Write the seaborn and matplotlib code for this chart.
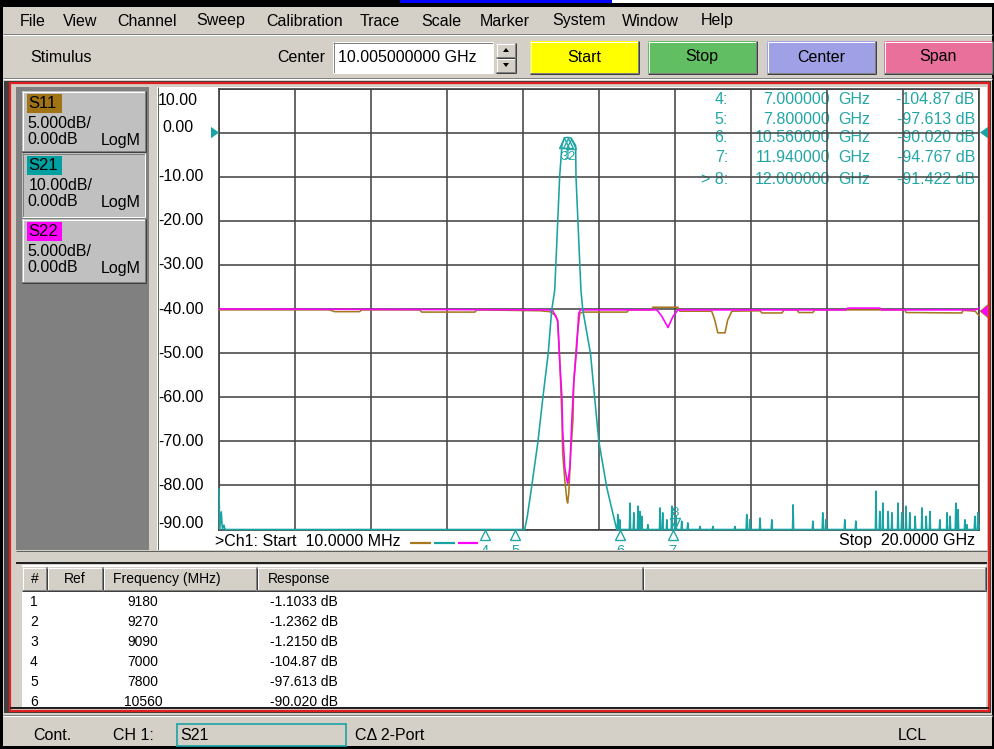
import numpy as np
import pandas as pd
import matplotlib
matplotlib.use("Agg")
import matplotlib.pyplot as plt
from matplotlib.patches import Rectangle, Polygon
from matplotlib import transforms
import seaborn as sns

# ---------------- data ----------------
start_ghz, stop_ghz = 0.01, 20.0
y_top_db, y_bottom_db = 10.0, -90.0
y_tick_db = [10, 0, -10, -20, -30, -40, -50, -60, -70, -80, -90]

trace_names = ["S11", "S21", "S22"]
trace_colors = {"S11": "#A8781E", "S21": "#1AA3A3", "S22": "#FF00FF"}
trace_scale = ["5.000dB/", "10.00dB/", "5.000dB/"]
trace_ref = ["0.00dB", "0.00dB", "0.00dB"]

# S21 main response (GHz, dB as displayed)
s21_freq = [0.01, 0.03, 0.07, 0.10, 0.14, 0.17, 8.05, 8.12, 8.23, 8.40, 8.53, 8.67,
            8.76, 8.84, 8.87, 8.92, 8.97, 9.03, 9.09, 9.18, 9.27, 9.39, 9.40, 9.45,
            9.50, 9.53, 9.58, 9.78, 9.89, 10.00, 10.21, 10.47]
s21_db = [-80.7, -90.0, -86.0, -90.0, -89.0, -90.0, -90.0, -87.0, -80.5, -70.0, -60.0, -50.0,
          -40.3, -35.8, -30.0, -20.0, -10.0, -2.9, -1.2, -1.1, -1.24, -2.9, -10.0, -20.0,
          -30.0, -35.8, -40.3, -50.0, -60.0, -70.0, -80.5, -90.0]
# S21 stop-band noise spikes above the -90 dB floor
spike_freq = [10.50, 10.55, 10.82, 10.92, 11.03, 11.08, 11.13, 11.29, 11.61, 11.68, 11.79,
              11.92, 12.03, 12.18, 12.34, 12.66, 13.00, 13.58, 13.89, 13.97, 14.24, 14.55,
              15.11, 15.63, 15.89, 15.97, 16.47, 16.76, 17.29, 17.39, 17.47, 17.61, 17.71,
              17.87, 17.97, 18.08, 18.18, 18.32, 18.50, 18.61, 18.71, 18.97, 19.16, 19.24,
              19.39, 19.45, 19.63, 19.68, 19.89, 19.97]
spike_db = [-86.6, -87.8, -84.0, -86.2, -84.7, -85.9, -87.0, -88.9, -85.1, -86.2, -87.8,
            -84.7, -87.0, -88.1, -88.5, -89.3, -89.3, -89.3, -86.6, -87.8, -87.4, -87.8,
            -84.4, -88.1, -86.2, -87.8, -87.8, -88.1, -81.3, -85.9, -84.0, -85.9, -86.2,
            -84.0, -86.2, -84.7, -86.2, -87.0, -85.1, -87.0, -85.9, -87.8, -86.2, -87.0,
            -84.0, -85.5, -87.8, -88.9, -87.0, -86.2]
noise_floor_db = -90.0
s21_tail_freq = [20.0]
s21_tail_db = [-89.0]

# S11 and S22 (displayed on the same graticule)
s11_freq = [0.01, 2.92, 3.05, 3.71, 3.76, 5.29, 5.34, 6.74, 6.79, 8.45, 8.71, 8.87, 8.92,
            8.97, 9.03, 9.05, 9.105, 9.16, 9.18, 9.21, 9.26, 9.32, 9.34, 9.42, 9.50, 9.58,
            10.74, 10.79, 11.39, 11.42, 12.08, 12.13, 12.97, 13.05, 13.13, 13.32, 13.39,
            13.50, 14.24, 14.29, 14.82, 14.87, 15.21, 15.26, 15.63, 15.68, 18.05, 18.08,
            19.55, 19.58, 19.90, 20.0]
s11_db = [-40.2, -40.2, -40.6, -40.6, -40.2, -40.2, -40.7, -40.7, -40.2, -40.4, -40.6, -41.5, -43.0,
          -51.0, -64.6, -72.7, -78.8, -83.3, -84.0, -81.8, -72.7, -65.2, -56.8, -47.1, -41.0, -40.7,
          -40.7, -40.2, -40.2, -39.6, -39.6, -40.5, -40.5, -42.5, -45.4, -45.4, -42.5,
          -40.5, -40.4, -40.9, -40.9, -40.2, -40.2, -40.8, -40.8, -40.2, -40.2, -40.8,
          -40.9, -40.3, -40.5, -41.5]
s22_freq = [0.01, 8.71, 8.79, 8.92, 8.97, 9.03, 9.05, 9.105, 9.16, 9.18, 9.24, 9.29, 9.34,
            9.42, 9.47, 9.52, 11.53, 11.66, 11.82, 11.95, 12.08, 16.50, 16.55, 17.39,
            17.44, 19.90, 20.0]
s22_db = [-40.0, -40.2, -40.4, -42.6, -51.6, -60.0, -67.5, -75.9, -78.8, -79.5, -75.9, -65.2, -56.8,
          -48.7, -41.0, -40.2, -40.2, -41.7, -44.2, -41.7, -40.2, -40.2, -39.8, -39.8,
          -40.2, -40.2, -39.8]

# markers on S21
marker_ids = ["1", "2", "3", "4", "5", "6", "7", "8"]
marker_freq_ghz = [9.18, 9.27, 9.09, 7.0, 7.8, 10.56, 11.94, 12.0]
marker_db = [-1.1033, -1.2362, -1.2150, -104.87, -97.613, -90.020, -94.767, -91.422]
marker_db_text = ["-1.1033", "-1.2362", "-1.2150", "-104.87", "-97.613", "-90.020", "-94.767", "-91.422"]
active_marker = "8"
readout_ids = ["4", "5", "6", "7", "8"]
table_ids = ["1", "2", "3", "4", "5", "6"]

menu_items = ["File", "View", "Channel", "Sweep", "Calibration", "Trace", "Scale",
              "Marker", "System", "Window", "Help"]
menu_x = [20, 63, 117, 196, 266, 360, 421, 480, 552, 622, 701]
table_headers = ["#", "Ref", "Frequency (MHz)", "Response"]

# ---------------- figure ----------------
sns.set_theme(style="white")
plt.rcParams['font.family'] = ['Liberation Sans', 'DejaVu Sans']

W, H = 995, 749
fig = plt.figure(figsize=(W / 100, H / 100), dpi=100)
bg = fig.add_axes([0, 0, 1, 1])
bg.set_xlim(0, W)
bg.set_ylim(H, 0)
bg.axis('off')
bg.set_zorder(0)

GRAY = '#D4D0C8'
DG = '#808080'
TEAL = '#1AA3A3'
TXT_TEAL = '#22A6A6'
FS = 11.5


def rect(x0, y0, x1, y1, fc, ec='none', lw=0, z=1):
    bg.add_patch(Rectangle((x0, y0), x1 - x0, y1 - y0, facecolor=fc, edgecolor=ec,
                           linewidth=lw, zorder=z))


def hl(x0, x1, y, c, lw=1, z=2):
    bg.plot([x0, x1], [y, y], color=c, lw=lw * 0.72, zorder=z, solid_capstyle='butt')


def vl(x, y0, y1, c, lw=1, z=2):
    bg.plot([x, x], [y0, y1], color=c, lw=lw * 0.72, zorder=z, solid_capstyle='butt')


def bevel(x0, y0, x1, y1, raised=True, z=2):
    lt, dk = ('white', DG) if raised else (DG, 'white')
    hl(x0, x1, y0 + 0.5, lt, z=z)
    vl(x0 + 0.5, y0, y1, lt, z=z)
    hl(x0, x1, y1 - 0.5, dk, z=z)
    vl(x1 - 0.5, y0, y1, dk, z=z)
    if raised:
        hl(x0, x1 + 1, y1 + 0.5, '#404040', z=z)
        vl(x1 + 0.5, y0, y1 + 1, '#404040', z=z)


def txt(x, y, s, size=FS, ha='left', va='center', color='black', z=5, **kw):
    return bg.text(x, y, s, fontsize=size, ha=ha, va=va, color=color, zorder=z, **kw)


# window background and border
rect(0, 0, W, H, GRAY, z=0)
rect(0, 0, W, 7, 'black', z=1)
rect(400, 0, 612, 3, '#0000FF', z=2)
rect(612, 0, W, 3, 'white', z=2)
rect(0, 0, 3, H, 'black', z=1)
rect(W - 3, 0, W, H, 'black', z=1)
rect(0, H - 3, W, H, 'black', z=1)

# menu bar
for s, x in zip(menu_items, menu_x):
    txt(x, 21, s)
hl(3, W - 3, 34, DG)
hl(3, W - 3, 35, 'white')

# toolbar
txt(30, 58, "Stimulus")
txt(325, 57, "Center", ha='right')
rect(333, 42, 493, 73, 'white', z=1)
bevel(333, 42, 493, 73, raised=False)
txt(338, 57, "10.005000000 GHz")
for (y0, y1, up) in [(43, 57, True), (58, 72, False)]:
    rect(496, y0, 516, y1, GRAY, z=1)
    bevel(496, y0, 515, y1, raised=True)
    cy = (y0 + y1) / 2
    pts = [(503, cy + 2), (509, cy + 2), (506, cy - 2)] if up else [(503, cy - 2), (509, cy - 2), (506, cy + 2)]
    bg.add_patch(Polygon(pts, closed=True, facecolor='black', edgecolor='none', zorder=4))
for label, x0, x1, col in [("Start", 530, 638, '#FFFF00'), ("Stop", 648, 756, '#62BE62'),
                           ("Center", 767, 875, '#A0A0E6'), ("Span", 884, 992, '#E8709A')]:
    rect(x0, 41, x1, 73, col, z=1)
    bevel(x0, 41, x1, 73, raised=True)
    txt((x0 + x1) / 2, 57, label, ha='center')
hl(3, W - 3, 78, DG)
hl(3, W - 3, 79, 'white')

# channel window frame
rect(4, 81, 991, 713, '#404040', z=1)
bg.add_patch(Rectangle((10, 83), 979, 628, facecolor=GRAY, edgecolor='#E02020',
                       linewidth=1.6, zorder=1.2))

# left trace panel
rect(16, 87, 149, 550, DG, z=1.5)
rect(149, 87, 157, 550, GRAY, z=1.5)
# white graph area
rect(157, 87, 987, 550, 'white', z=1.5)
vl(157.5, 87, 550, '#606060', z=1.6)

panels = [(91, 151, '#A07414'), (153, 217, '#00A0A0'), (219, 282, '#FF00FF')]
for i, (name, (y0, y1, lc)) in enumerate(zip(trace_names, panels)):
    rect(22, y0, 145, y1, '#C0C0C0', z=1.7)
    bevel(22, y0, 145, y1, raised=(i != 1))
    rect(27, y0 + 3, 62, y0 + 22, lc, z=1.8)
    txt(28, y0 + 12.5, name, size=12)
    txt(27 if i != 1 else 29, y0 + 33, trace_scale[i], size=11.5)
    txt(27, y0 + 49, trace_ref[i], size=11.5)
    txt(141, y0 + 49, "LogM", size=11.5, ha='right')

# splitter between graph and marker table
rect(149, 550, 987, 565, GRAY, z=3)
hl(16, 987, 550.5, '#606060', z=3.1)
hl(16, 987, 563, '#202020', lw=2, z=3.1)
rect(16, 550, 149, 565, GRAY, z=3)

# marker table
rect(22, 565, 986, 707, 'white', z=1.5)
rect(22, 567, 986, 590, GRAY, z=1.6)
col_edges = [22, 47, 103, 257, 643, 986]
for a, b in zip(col_edges[:-1], col_edges[1:]):
    bevel(a, 567, b - 1, 590, raised=True, z=1.7)
txt(35, 579, "#", size=10, ha='center')
txt(75, 579, "Ref", size=10, ha='center')
txt(113, 579, "Frequency (MHz)", size=10)
txt(268, 579, "Response", size=10)
tbl_clip = Rectangle((22, 565), 964, 141, transform=bg.transData)
for r, mid in enumerate(table_ids):
    k = marker_ids.index(mid)
    y = 602 + 20 * r
    for t in [txt(30, y, mid, size=10),
              txt(143, y, f"{int(round(marker_freq_ghz[k] * 1000))}", size=10, ha='center'),
              txt(270, y, f"{marker_db_text[k]} dB", size=10)]:
        t.set_clip_path(tbl_clip)
        t.set_clip_on(True)
hl(10, 989, 707.5, '#202020', lw=2, z=2)

# status bar
hl(3, W - 3, 715, DG)
hl(3, W - 3, 716, 'white')
txt(33, 735, "Cont.")
txt(113, 735, "CH 1:")
bg.add_patch(Rectangle((177, 724), 169, 22, facecolor='none', edgecolor=TEAL, linewidth=1.2, zorder=3))
txt(180, 735, "S21")
txt(355, 735, "CΔ 2-Port")
txt(898, 735, "LCL")

# "dB S21" tag
rect(221, 91, 276, 108, '#00A0A0', z=1.8)
txt(222, 99.5, "dB S21", size=11.5, z=1.9)

# start / stop annotation and trace legend
txt(215, 541, ">Ch1: Start  10.0000 MHz", z=2)
txt(975, 541, "Stop  20.0000 GHz", ha='right', z=2)
for (x0, x1), c in zip([(410, 431), (434, 455), (458, 478)],
                       [trace_colors["S11"], trace_colors["S21"], trace_colors["S22"]]):
    hl(x0, x1, 543, c, lw=2.2, z=2)

# ---------------- graticule ----------------
ax = fig.add_axes([219 / W, 1 - 529.5 / H, 760 / W, 441 / H])
ax.set_zorder(2)
ax.set_facecolor('white')

s21_f = list(s21_freq)
s21_v = list(s21_db)
w = 0.015
for f, v in zip(spike_freq, spike_db):
    s21_f += [f - w, f, f + w]
    s21_v += [noise_floor_db, v, noise_floor_db]
s21_f += s21_tail_freq
s21_v += s21_tail_db

data = {"S11": (s11_freq, s11_db), "S22": (s22_freq, s22_db), "S21": (s21_f, s21_v)}
for name in ["S11", "S22", "S21"]:
    f, v = data[name]
    df = pd.DataFrame({"freq": f, "db": v})
    sns.lineplot(data=df, x="freq", y="db", color=trace_colors[name], estimator=None,
                 sort=False, linewidth=1.15, ax=ax, legend=False)
for ln in ax.lines:
    ln.set_clip_on(False)
    ln.set_zorder(3)

ax.set_xlim(start_ghz, stop_ghz)
ax.set_ylim(y_bottom_db, y_top_db)
ax.set_xticks(np.linspace(start_ghz, stop_ghz, 11))
ax.set_yticks(y_tick_db)
ax.tick_params(length=0, labelleft=False, labelbottom=False)
ax.set_xlabel("")
ax.set_ylabel("")
ax.grid(True, color='#454545', linewidth=1.15)
ax.set_axisbelow(True)
for sp in ax.spines.values():
    sp.set_color('#404040')
    sp.set_linewidth(1.2)

px = lambda dx, dy: transforms.ScaledTranslation(dx / 100, dy / 100, fig.dpi_scale_trans)
ylab = transforms.blended_transform_factory(bg.transData, ax.transData)

# y scale labels
for v in y_tick_db:
    dy = {10: -11.5, 0: 5, -90: 6}.get(v, 0)
    xx = 162 if v == 0 else 158
    ax.text(xx, v, f"{v:.2f}", transform=ylab + px(0, dy), ha='left', va='center',
            fontsize=FS, color='black', clip_on=False)

# reference-level arrows
ax.add_patch(Polygon([(211, 1.3), (211, -1.3), (219, 0)], closed=True, transform=ylab,
                     facecolor=TEAL, edgecolor='none', clip_on=False, zorder=4))
ax.add_patch(Polygon([(988, 1.3), (988, -1.3), (980, 0)], closed=True, transform=ylab,
                     facecolor=TEAL, edgecolor='none', clip_on=False, zorder=4))
ax.add_patch(Polygon([(988, -39.0), (988, -42.0), (980, -40.5)], closed=True, transform=ylab,
                     facecolor='#FF00FF', edgecolor='#A8781E', lw=0.5, clip_on=False, zorder=4))

# markers
disp_db = np.clip(marker_db, y_bottom_db, y_top_db)
for mid, f, v in zip(marker_ids, marker_freq_ghz, disp_db):
    active = (mid == active_marker)
    dy = 6.5 if active else -5.5
    ax.plot([f], [v], marker='v' if active else '^', ms=7, mfc='none', mec=TXT_TEAL, mew=1.0,
            transform=ax.transData + px(0, dy), clip_on=False, zorder=6)
    if active or v > y_bottom_db + 1:
        ldy = 17 if active else -19
        ax.text(f, v, mid, transform=ax.transData + px(0, ldy), ha='center', va='center',
                color=TXT_TEAL, fontsize=9.5, clip_on=False, zorder=6)
    else:
        bt = transforms.blended_transform_factory(ax.transData, bg.transData)
        bg.text(f, 551, mid, transform=bt, ha='center', va='center', color=TXT_TEAL,
                fontsize=10.5, zorder=2)

# marker readout (drawn beneath the graticule lines, as on the instrument)
ys = [100, 119, 138, 157, 180]
for mid, y in zip(readout_ids, ys):
    k = marker_ids.index(mid)
    lab = ("> " if mid == active_marker else "") + mid + ":"
    for xx, s, ha in [(728, lab, 'right'), (830, f"{marker_freq_ghz[k]:.6f}", 'right'),
                      (838, "GHz", 'left'), (975, f"{marker_db_text[k]} dB", 'right')]:
        ax.text(xx, y, s, transform=bg.transData, ha=ha, va='center', fontsize=FS,
                color=TXT_TEAL, zorder=0.3, clip_on=False)

fig.savefig("out.png", dpi=100)
